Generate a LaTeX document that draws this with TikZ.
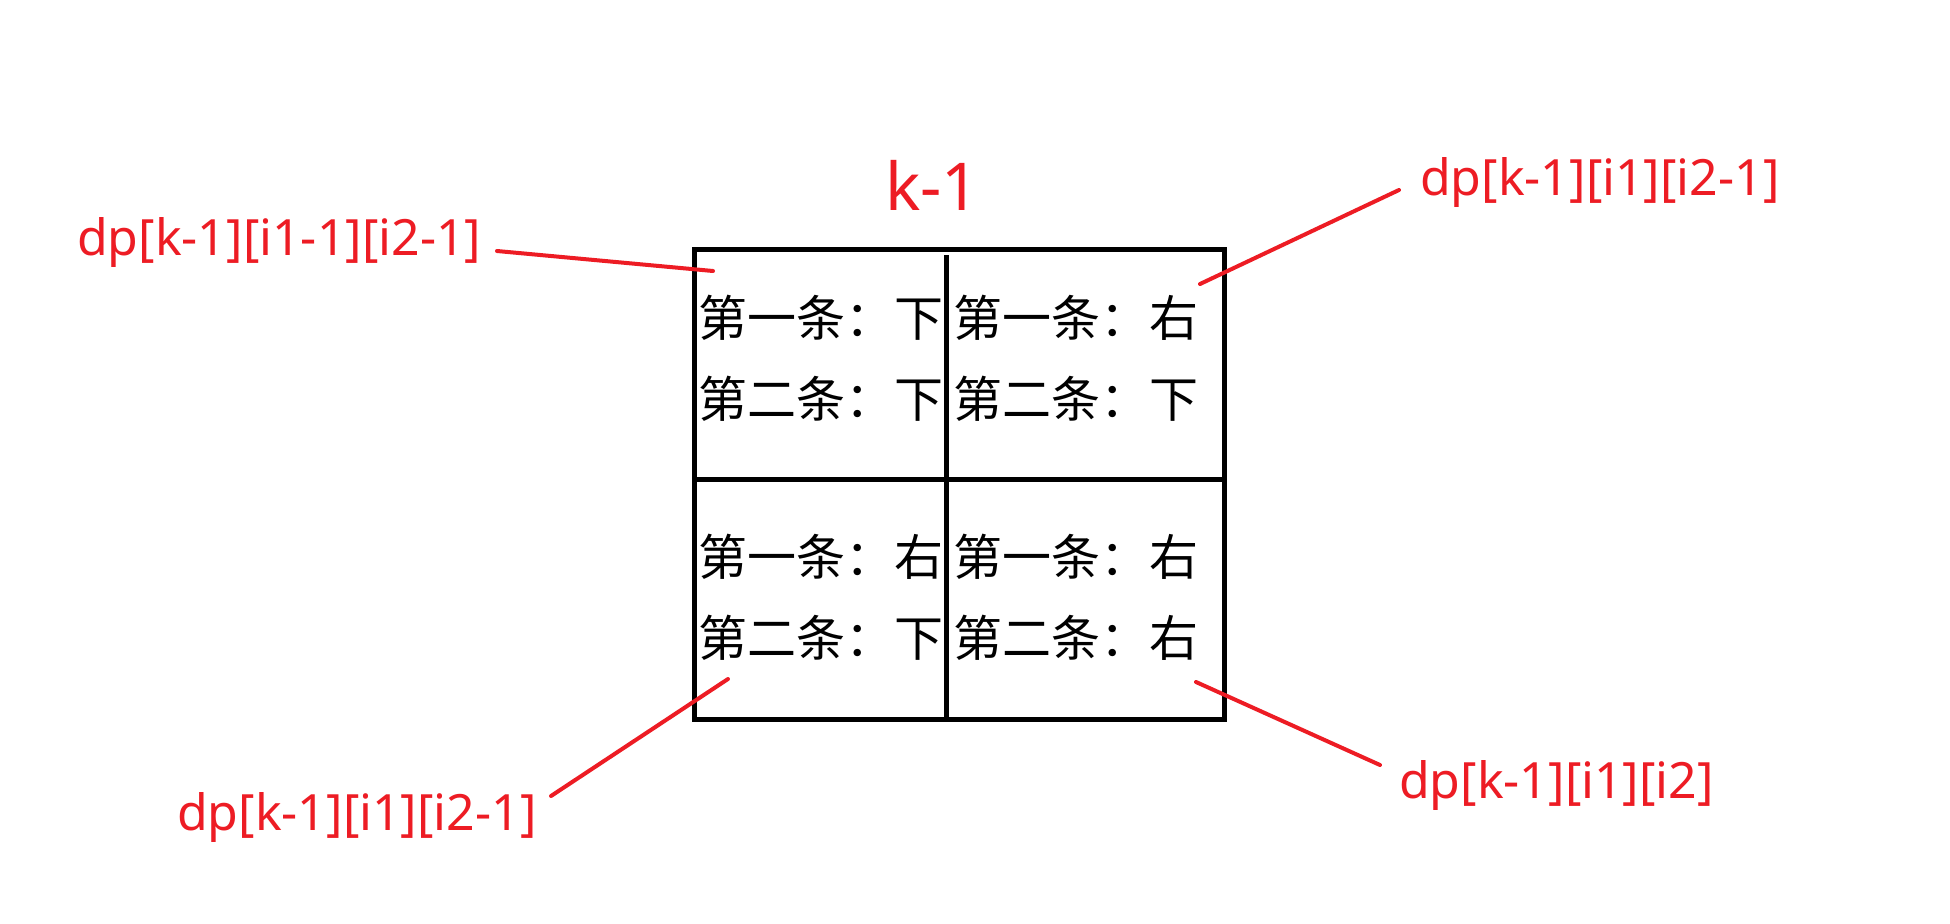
\documentclass[tikz,border=0pt]{standalone}
\usepackage{fontspec}
\setmainfont{Noto Sans}
\newfontfamily\cjk{Noto Sans CJK SC}
\definecolor{lblred}{HTML}{ED1C24}
\begin{document}
\begin{tikzpicture}[x=1pt,y=-1pt,
  celltxt/.style={anchor=west,inner sep=0pt,font=\cjk\fontsize{49}{58}\selectfont},
  lbl/.style={anchor=west,inner sep=0pt,text=lblred,font=\fontsize{50}{60}\selectfont},
  title/.style={anchor=west,inner sep=0pt,text=lblred,font=\fontsize{66}{76}\selectfont},
  gridline/.style={line width=5pt,draw=black},
  leader/.style={line width=4pt,draw=lblred,line cap=round}]
\useasboundingbox (0,0) rectangle (1950,923);
\fill[white] (0,0) rectangle (1950,923);

% grid
\node (grid) [gridline,draw,inner sep=0pt,minimum width=530pt,minimum height=470pt] at (959,484) {};
\coordinate (vtop) at (946,255);
\coordinate (vbot) at (946,719);
\coordinate (hl) at (694,479);
\coordinate (hr) at (1226,479);
\draw[gridline] (vtop) -- (vbot);
\draw[gridline] (hl) -- (hr);

% cell texts
\node (a1) [celltxt] at (698,318) {第一条：下};
\node (a2) [celltxt] at (698,399) {第二条：下};
\node (b1) [celltxt] at (953,318) {第一条：右};
\node (b2) [celltxt] at (953,399) {第二条：下};
\node (c1) [celltxt] at (698,557) {第一条：右};
\node (c2) [celltxt] at (698,638) {第二条：下};
\node (d1) [celltxt] at (953,557) {第一条：右};
\node (d2) [celltxt] at (953,638) {第二条：右};

% title
\node (k) [title] at (885,185) {k-1};

% labels
\node (l1) [lbl] at (77,242) {dp[k-1][i1-1][i2-1]};
\node (l2) [lbl] at (1420,182) {dp[k-1][i1][i2-1]};
\node (l3) [lbl] at (177,817) {dp[k-1][i1][i2-1]};
\node (l4) [lbl] at (1399,785) {dp[k-1][i1][i2]};

% leader lines
\coordinate (l1s) at (497,251);  \coordinate (l1e) at (713,271);
\coordinate (l2s) at (1399,190); \coordinate (l2e) at (1200,284);
\coordinate (l3s) at (551,796);  \coordinate (l3e) at (728,679);
\coordinate (l4s) at (1380,765); \coordinate (l4e) at (1196,682);
\draw[leader] (l1s) -- (l1e);
\draw[leader] (l2s) -- (l2e);
\draw[leader] (l3s) -- (l3e);
\draw[leader] (l4s) -- (l4e);
\end{tikzpicture}
\end{document}
